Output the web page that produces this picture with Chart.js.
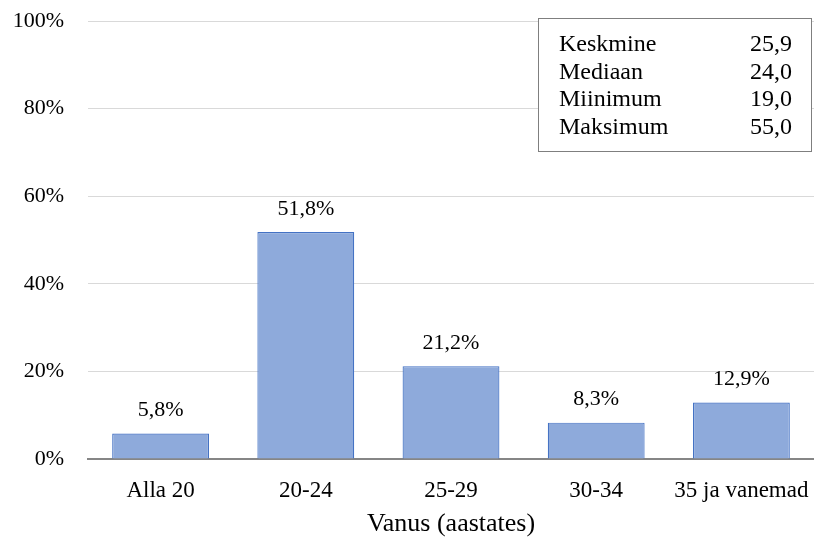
<!DOCTYPE html>
<html>
<head>
<meta charset="utf-8">
<script src="https://cdn.jsdelivr.net/npm/chart.js@4.4.1/dist/chart.umd.min.js"></script>
<style>
  html, body { margin: 0; padding: 0; background: #ffffff; }
  #wrap { width: 814px; height: 540px; position: relative; }
</style>
</head>
<body>
<div id="wrap"><canvas id="chart" width="814" height="540"></canvas></div>
<script>
// Age groups and share of respondents (%)
const categories = ['Alla 20', '20-24', '25-29', '30-34', '35 ja vanemad'];
const shares = [5.8, 51.8, 21.2, 8.3, 12.9];
const yTicks = [0, 20, 40, 60, 80, 100];

// Summary statistics of age
const statLabels = ['Keskmine', 'Mediaan', 'Miinimum', 'Maksimum'];
const statValues = [25.9, 24.0, 19.0, 55.0];

const FONT = '"Liberation Serif", "Times New Roman", serif';
const fmt = v => v.toFixed(1).replace('.', ',');

const valueLabels = {
  id: 'valueLabels',
  afterDatasetsDraw(chart) {
    const ctx = chart.ctx;
    const meta = chart.getDatasetMeta(0);
    ctx.save();
    ctx.font = '22px ' + FONT;
    ctx.fillStyle = '#000';
    ctx.textAlign = 'center';
    ctx.textBaseline = 'middle';
    meta.data.forEach((bar, i) => {
      ctx.fillText(fmt(shares[i]) + '%', bar.x, bar.y - 23);
    });
    ctx.restore();
  }
};

const statsBox = {
  id: 'statsBox',
  afterDraw(chart) {
    const ctx = chart.ctx;
    const x0 = 538.5, y0 = 18.5, w = 273, h = 133;
    ctx.save();
    ctx.fillStyle = '#fff';
    ctx.fillRect(x0, y0, w, h);
    ctx.strokeStyle = '#7f7f7f';
    ctx.lineWidth = 1;
    ctx.strokeRect(x0, y0, w, h);
    ctx.font = '24px ' + FONT;
    ctx.fillStyle = '#000';
    ctx.textBaseline = 'middle';
    statLabels.forEach((lab, i) => {
      const y = 45 + i * 27.5;
      ctx.textAlign = 'left';
      ctx.fillText(lab, 559, y);
      ctx.textAlign = 'right';
      ctx.fillText(fmt(statValues[i]), 792, y);
    });
    ctx.restore();
  }
};

new Chart(document.getElementById('chart'), {
  type: 'bar',
  data: {
    labels: categories,
    datasets: [{
      data: shares,
      backgroundColor: '#8eaadb',
      borderColor: '#4472c4',
      borderWidth: 1.2,
      barPercentage: 0.667,
      categoryPercentage: 1
    }]
  },
  options: {
    responsive: false,
    animation: false,
    layout: { padding: { top: 21, right: 0, bottom: 0, left: 0 } },
    plugins: { legend: { display: false }, tooltip: { enabled: false } },
    scales: {
      x: {
        grid: { display: false, drawTicks: false },
        border: { color: '#868686', width: 2 },
        ticks: { color: '#000', font: { family: FONT, size: 23 }, padding: 18, maxRotation: 0, autoSkip: false },
        title: { display: true, text: 'Vanus (aastates)', color: '#000', font: { family: FONT, size: 26 }, padding: { top: 8, bottom: 0 } },
        afterFit(scale) {
          scale.height = 81;
          scale.paddingLeft = 0;
          scale.paddingRight = 0;
        }
      },
      y: {
        min: 0, max: 100,
        afterBuildTicks(scale) { scale.ticks = yTicks.map(v => ({ value: v })); },
        grid: { color: '#d9d9d9', drawTicks: false },
        border: { display: false },
        ticks: { color: '#000', font: { family: FONT, size: 22 }, padding: 24, callback: v => v + '%' },
        afterFit(scale) {
          scale.width = 88;
          scale.paddingTop = 0;
          scale.paddingBottom = 0;
        }
      }
    }
  },
  plugins: [valueLabels, statsBox]
});
</script>
</body>
</html>
